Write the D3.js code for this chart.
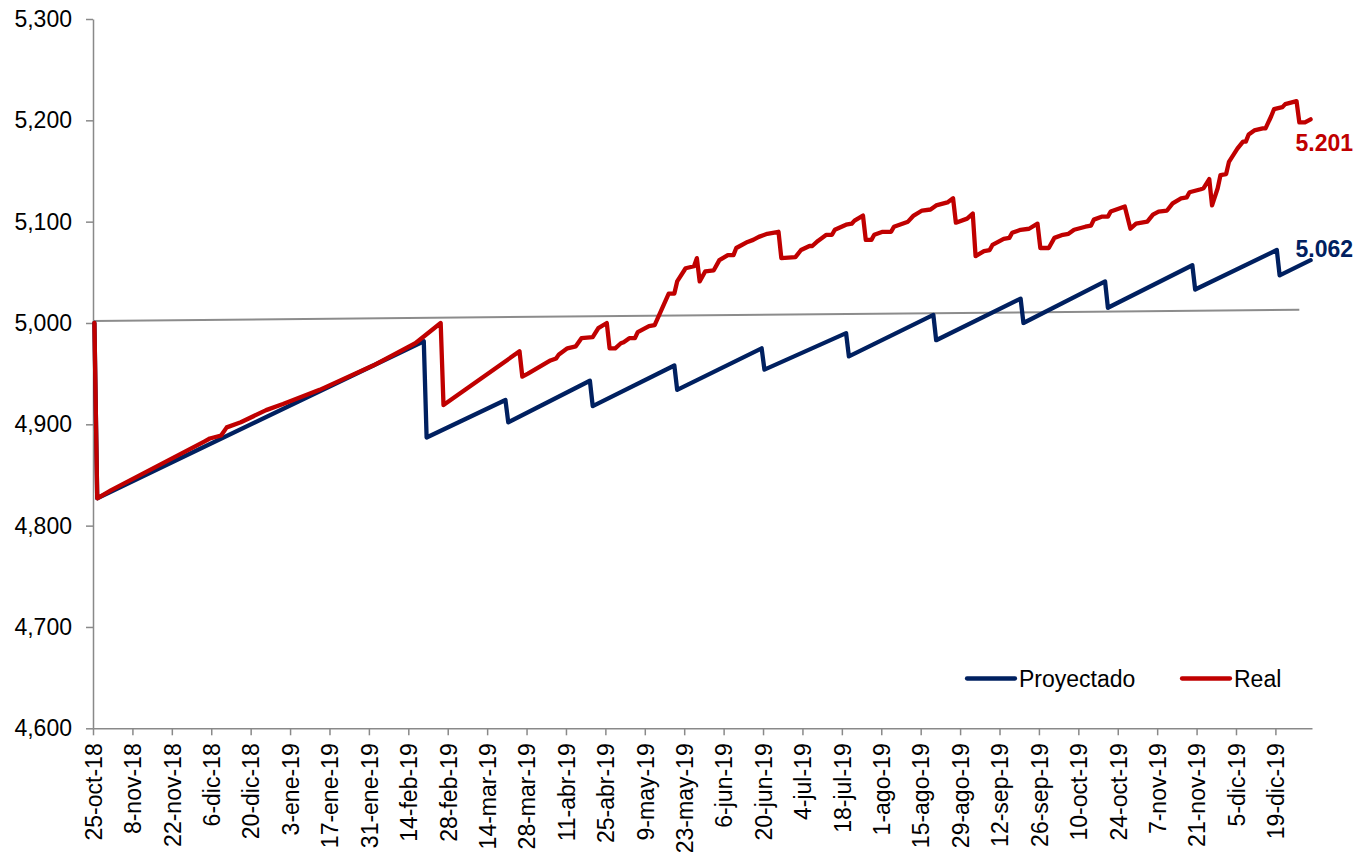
<!DOCTYPE html>
<html>
<head>
<meta charset="utf-8">
<script src="https://cdn.jsdelivr.net/npm/d3@7"></script>
<style>
  html, body { margin: 0; padding: 0; background: #ffffff; }
  svg { display: block; font-family: "Liberation Sans", Arial, sans-serif; }
</style>
</head>
<body>
<svg id="chart" width="1356" height="852"></svg>
<script>
// ---------------- DATA ----------------
const tickLabels = ["25-oct-18","8-nov-18","22-nov-18","6-dic-18","20-dic-18","3-ene-19","17-ene-19","31-ene-19","14-feb-19","28-feb-19","14-mar-19","28-mar-19","11-abr-19","25-abr-19","9-may-19","23-may-19","6-jun-19","20-jun-19","4-jul-19","18-jul-19","1-ago-19","15-ago-19","29-ago-19","12-sep-19","26-sep-19","10-oct-19","24-oct-19","7-nov-19","21-nov-19","5-dic-19","19-dic-19"];
const yTicks = [4600, 4700, 4800, 4900, 5000, 5100, 5200, 5300];
const seriesNames = ["Proyectado", "Real"];

const projDates = ["2018-10-25","2018-10-26","2019-02-19","2019-02-20","2019-03-20","2019-03-21","2019-04-19","2019-04-20","2019-05-19","2019-05-20","2019-06-19","2019-06-20","2019-07-19","2019-07-20","2019-08-19","2019-08-20","2019-09-19","2019-09-20","2019-10-19","2019-10-20","2019-11-19","2019-11-20","2019-12-19","2019-12-20","2019-12-31"];
const projValues = [5000,4827,4982,4887,4924,4902,4943,4918,4958,4934,4975,4954,4990,4967,5008,4983,5024,5000,5041,5015,5057,5033,5072,5047,5062];

const realDates = ["2018-10-25","2018-10-26","2018-10-31","2018-12-03","2018-12-05","2018-12-09","2018-12-11","2018-12-16","2018-12-25","2018-12-31","2019-01-13","2019-02-01","2019-02-16","2019-02-25","2019-02-26",
"2019-03-25","2019-03-26","2019-03-28","2019-04-05","2019-04-07","2019-04-08","2019-04-11","2019-04-14","2019-04-16","2019-04-20","2019-04-22","2019-04-25","2019-04-26","2019-04-28","2019-04-30",
"2019-05-01","2019-05-03","2019-05-05","2019-05-06","2019-05-10","2019-05-12","2019-05-17","2019-05-19","2019-05-20","2019-05-23","2019-05-26","2019-05-27","2019-05-28","2019-05-30",
"2019-06-02","2019-06-04","2019-06-07","2019-06-09","2019-06-10","2019-06-14","2019-06-16","2019-06-18","2019-06-21","2019-06-25","2019-06-26",
"2019-07-01","2019-07-03","2019-07-06","2019-07-07","2019-07-09","2019-07-12","2019-07-14","2019-07-15","2019-07-19","2019-07-21","2019-07-22","2019-07-25","2019-07-26","2019-07-28","2019-07-29",
"2019-08-01","2019-08-04","2019-08-05","2019-08-08","2019-08-10","2019-08-12","2019-08-15","2019-08-18","2019-08-20","2019-08-24","2019-08-26","2019-08-27","2019-08-31",
"2019-09-02","2019-09-03","2019-09-06","2019-09-08","2019-09-09","2019-09-13","2019-09-15","2019-09-16","2019-09-19","2019-09-22","2019-09-25","2019-09-26","2019-09-29",
"2019-10-01","2019-10-04","2019-10-06","2019-10-08","2019-10-12","2019-10-14","2019-10-15","2019-10-18","2019-10-20","2019-10-21","2019-10-26","2019-10-28","2019-10-30",
"2019-11-03","2019-11-05","2019-11-07","2019-11-10","2019-11-12","2019-11-15","2019-11-17","2019-11-18","2019-11-22","2019-11-23","2019-11-25","2019-11-26","2019-11-28","2019-11-29",
"2019-12-01","2019-12-02","2019-12-05","2019-12-07","2019-12-08","2019-12-09","2019-12-11","2019-12-14","2019-12-15","2019-12-17","2019-12-18","2019-12-21","2019-12-22","2019-12-26","2019-12-27","2019-12-29","2019-12-31"];
const realValues = [5000,4827,4835,4883,4886,4889,4897,4902,4914,4920,4934,4958,4980,5000,4919,
4972,4947,4950,4963,4965,4969,4975,4977,4985,4986,4995,5000,4975,4975,4980,
4981,4985,4985,4991,4997,4998,5029,5029,5041,5054,5056,5064,5041,5051,
5052,5062,5067,5067,5074,5080,5082,5085,5088,5090,5064,
5065,5072,5076,5076,5081,5087,5087,5092,5097,5098,5101,5106,5082,5082,5087,
5090,5090,5095,5098,5100,5106,5111,5112,5116,5119,5123,5099,5103,
5108,5066,5071,5072,5077,5083,5084,5089,5092,5093,5098,5074,5074,
5084,5087,5088,5092,5095,5096,5102,5105,5105,5110,5115,5093,5098,
5100,5107,5110,5111,5118,5123,5124,5129,5132,5133,5142,5116,5133,5146,
5147,5159,5172,5179,5179,5186,5190,5192,5192,5204,5211,5213,5216,5219,5198,5198,5201];

const refDates = ["2018-10-25", "2019-12-27"];
const refValues = [5002, 5013];

const xDomain = ["2018-10-25", "2020-01-01"];
const yDomain = [4600, 5300];

// ---------------- SETUP ----------------
(function () {
const W = 1356, H = 852;
const plotL = 93, plotR = 1312, plotT = 19, plotB = 728.3;
const FONT = 23;
const navy = "#002060", red = "#C00000", axisGray = "#898989", refGray = "#8c8c8c";

const parse = d3.utcParse("%Y-%m-%d");
const monthMap = {ene:0,feb:1,mar:2,abr:3,may:4,jun:5,jul:6,ago:7,sep:8,oct:9,nov:10,dic:11};
const parseLabel = s => { const p = s.split("-"); return new Date(Date.UTC(2000 + +p[2], monthMap[p[1]], +p[0])); };
const mid = d => d3.utcHour.offset(d, 12); // points sit in the middle of each day

const svg = d3.select("#chart");
svg.append("rect").attr("width", W).attr("height", H).attr("fill", "#fff");

const x = d3.scaleUtc().domain(xDomain.map(parse)).range([plotL, plotR]);
const y = d3.scaleLinear().domain(yDomain).range([plotB, plotT]);

const proj = projDates.map((d, i) => ({ date: parse(d), value: projValues[i] }));
const real = realDates.map((d, i) => ({ date: parse(d), value: realValues[i] }));
const ref = refDates.map((d, i) => ({ date: parse(d), value: refValues[i] }));

// ---------------- AXES ----------------
const yAxis = d3.axisLeft(y).tickValues(yTicks).tickFormat(d3.format(",")).tickSize(7).tickSizeOuter(0).tickPadding(14);
const gy = svg.append("g").attr("transform", `translate(${plotL},0)`).call(yAxis);
gy.select(".domain").attr("stroke", axisGray).attr("stroke-width", 1.5);
gy.selectAll(".tick line").attr("stroke", axisGray).attr("stroke-width", 1.5);
gy.selectAll("text").attr("font-size", FONT).attr("fill", "#000").attr("font-family", "Liberation Sans, Arial, sans-serif");

const tickDates = tickLabels.map(parseLabel);
const xAxis = d3.axisBottom(x).tickValues(tickDates).tickFormat((d, i) => tickLabels[i]).tickSize(7).tickSizeOuter(0);
const gx = svg.append("g").attr("transform", `translate(0,${plotB})`).call(xAxis);
gx.select(".domain").attr("stroke", axisGray).attr("stroke-width", 1.5);
gx.selectAll(".tick line").attr("stroke", axisGray).attr("stroke-width", 1.5);
gx.selectAll("text")
  .attr("font-size", FONT).attr("fill", "#000").attr("font-family", "Liberation Sans, Arial, sans-serif")
  .attr("transform", "rotate(-90)")
  .attr("text-anchor", "end")
  .attr("x", -15).attr("y", 0).attr("dy", "0.36em");

// ---------------- LINES ----------------
const line = d3.line().x(d => x(mid(d.date))).y(d => y(d.value));
const refLine = d3.line().x((d, i) => i === 0 ? x(d.date) : x(mid(d.date))).y(d => y(d.value));

svg.append("path").datum(ref).attr("d", refLine)
  .attr("fill", "none").attr("stroke", refGray).attr("stroke-width", 2);

svg.append("path").datum(proj).attr("d", line)
  .attr("fill", "none").attr("stroke", navy).attr("stroke-width", 4.3)
  .attr("stroke-linejoin", "round").attr("stroke-linecap", "round");

svg.append("path").datum(real).attr("d", line)
  .attr("fill", "none").attr("stroke", red).attr("stroke-width", 4.3)
  .attr("stroke-linejoin", "round").attr("stroke-linecap", "round");

// ---------------- END LABELS ----------------
const esFmt = d3.formatLocale({ decimal: ",", thousands: ".", grouping: [3], currency: ["", ""] }).format(",");
const lastReal = real[real.length - 1], lastProj = proj[proj.length - 1];
svg.append("text").attr("x", x(mid(lastReal.date)) - 15).attr("y", y(lastReal.value) + 32)
  .attr("font-size", FONT).attr("font-weight", "bold").attr("fill", red).text(esFmt(lastReal.value));
svg.append("text").attr("x", x(mid(lastProj.date)) - 15).attr("y", y(lastProj.value) - 3.5)
  .attr("font-size", FONT).attr("font-weight", "bold").attr("fill", navy).text(esFmt(lastProj.value));

// ---------------- LEGEND ----------------
const legend = svg.append("g");
const legendItems = [
  { name: seriesNames[0], color: navy, x0: 967 },
  { name: seriesNames[1], color: red, x0: 1182 }
];
legendItems.forEach(it => {
  legend.append("line").attr("x1", it.x0).attr("x2", it.x0 + 48).attr("y1", 678.5).attr("y2", 678.5)
    .attr("stroke", it.color).attr("stroke-width", 4.3).attr("stroke-linecap", "round");
  legend.append("text").attr("x", it.x0 + 52).attr("y", 686.5).attr("font-size", FONT).attr("fill", "#000").text(it.name);
});
})();
</script>
</body>
</html>
